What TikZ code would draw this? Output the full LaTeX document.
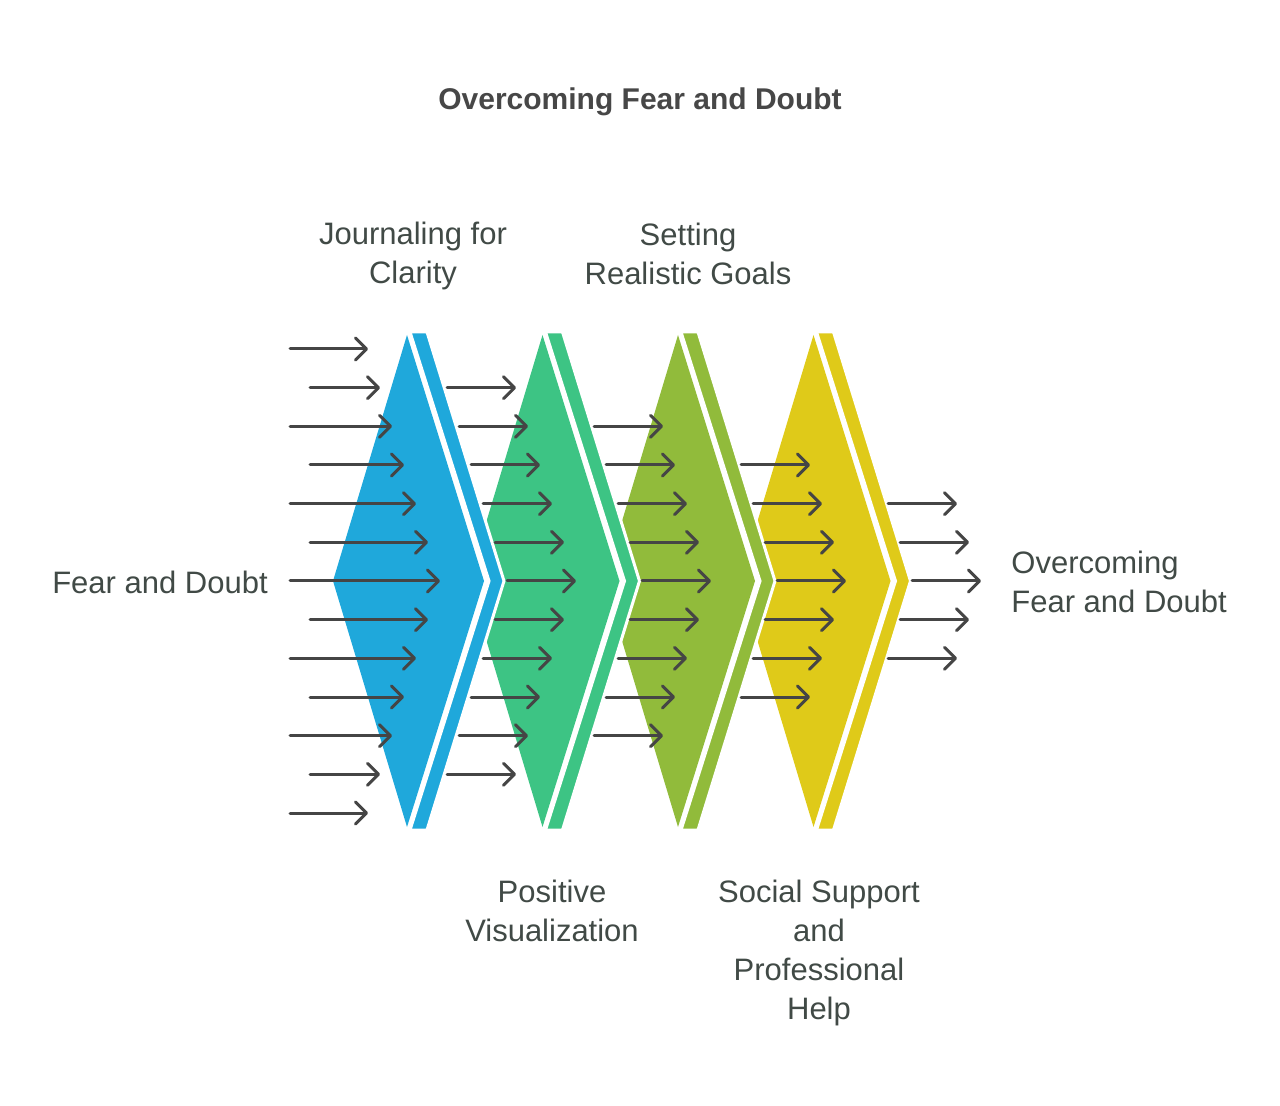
\documentclass[tikz,border=0pt]{standalone}
\usepackage{fontspec}
\setmainfont{Liberation Sans}
\usepackage{xcolor}
\usepackage{tikz}
\usetikzlibrary{arrows.meta}

\definecolor{cblue}{HTML}{1FA8DB}
\definecolor{cgreen}{HTML}{3DC484}
\definecolor{colive}{HTML}{91BB3B}
\definecolor{cyellow}{HTML}{DFCA19}
\definecolor{arrowgray}{HTML}{454545}
\definecolor{textgray}{HTML}{414A46}
\definecolor{titlegray}{HTML}{474747}

\tikzset{
  flow/.style={draw=arrowgray, line width=1.5pt, line cap=round,
    -{Straight Barb[length=5.5pt,width=11pt,round]}},
  steptext/.style={text=textgray, align=center, inner sep=0pt,
    font=\fontsize{15.5}{19.5}\selectfont},
  headline/.style={text=titlegray, inner sep=0pt,
    font=\bfseries\fontsize{15}{18}\selectfont}
}

\begin{document}
\begin{tikzpicture}[x=0.5pt,y=-0.5pt]
  \useasboundingbox (0,0) rectangle (1280,1106);
  \def\dy{38.67}
  \def\gap{135.5}

  % chevrons, right one first so the left ones lie on top
  \foreach \i/\col in {3/cyellow,2/colive,1/cgreen,0/cblue}{
    \begin{scope}[shift={(\i*\gap,0)}]
      \fill[white] (333,581) -- (410,332) -- (490,581) -- (410,830) -- cycle;
      \fill[\col] (333,581) -- (407,335) -- (484,581) -- (407,827) -- cycle;
      \filldraw[fill=\col, draw=white, line width=1.5pt, line join=miter]
        (410,332) -- (427,332) -- (504,581) -- (427,830) -- (410,830) -- (489,581) -- cycle;
    \end{scope}
  }

  % incoming arrows
  \foreach \d in {-6,...,6}{
    \pgfmathsetmacro{\xs}{isodd(\d) ? 310 : 290}
    \pgfmathsetmacro{\xe}{440-12*abs(\d)}
    \draw[flow] (\xs,581+\d*\dy) -- (\xe,581+\d*\dy);
  }

  % arrows behind each chevron
  \foreach \g in {1,...,4}{
    \pgfmathtruncatemacro{\n}{6-\g}
    \foreach \d in {-\n,...,\n}{
      \pgfmathsetmacro{\xs}{507+135*(\g-1)-12*abs(\d)}
      \draw[flow] (\xs,581+\d*\dy) -- (\xs+69,581+\d*\dy);
    }
  }

  % texts
  \node[headline] (title) at (640,102) {Overcoming Fear and Doubt};
  \node[steptext] (journaling) at (413,256) {Journaling for\\Clarity};
  \node[steptext] (goals) at (688,254) {Setting\\Realistic Goals};
  \node[steptext] (visualization) at (552,911) {Positive\\Visualization};
  \node[steptext] (support) at (819,953) {Social Support\\and\\Professional\\Help};
  \node[steptext] (fear) at (160,582) {Fear and Doubt};
  \node[steptext, anchor=west, align=left] (overcome) at (1011,582) {Overcoming\\Fear and Doubt};
\end{tikzpicture}
\end{document}
